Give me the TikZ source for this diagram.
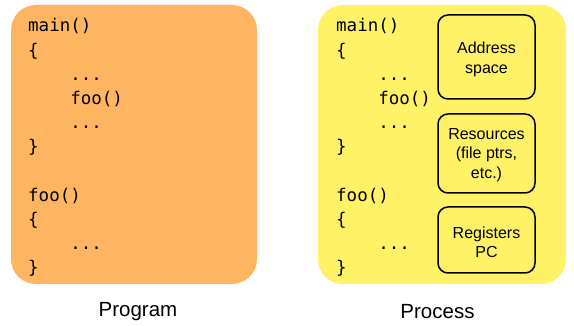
\documentclass[tikz,border=0pt]{standalone}
\usepackage{fontspec}
\setmainfont{Liberation Sans}
\newfontfamily\codefont{DejaVu Sans Mono}
\definecolor{progorange}{RGB}{253,181,98}
\definecolor{procyellow}{RGB}{255,242,102}
\newcommand\codeind{\phantom{xxxx}}
\newcommand\codelines[2]{%
  \node[code] (#2a) at (#1,32) {main()};
  \node[code] (#2b) at (#1,56.2) {\{};
  \node[code] (#2c) at (#1,80.4) {\codeind...};
  \node[code] (#2d) at (#1,104.6) {\codeind foo()};
  \node[code] (#2e) at (#1,128.8) {\codeind...};
  \node[code] (#2f) at (#1,153) {\}};
  \node[code] (#2g) at (#1,201.4) {foo()};
  \node[code] (#2h) at (#1,225.6) {\{};
  \node[code] (#2i) at (#1,249.8) {\codeind...};
  \node[code] (#2j) at (#1,274) {\}};
}
\begin{document}
\begin{tikzpicture}[x=1pt,y=-1pt,
  bigbox/.style={rounded corners=25pt, draw=none},
  smallbox/.style={draw=black, line width=1.5pt, rounded corners=10pt},
  code/.style={anchor=base west, inner sep=0pt, font=\codefont\fontsize{17.5}{24.2}\selectfont},
  boxtext/.style={align=center, inner sep=0pt, font=\fontsize{16}{19.5}\selectfont},
  caption/.style={inner sep=0pt, font=\fontsize{20.5}{24}\selectfont}]
\useasboundingbox (0,0) rectangle (574,326);
% big boxes
\path[bigbox, fill=progorange] (11,5) rectangle (257,284);
\path[bigbox, fill=procyellow] (318,5) rectangle (566,284);
% code
\codelines{28}{prog}
\codelines{336}{proc}
% inner boxes
\draw[smallbox] (438,15) rectangle (535,99);
\draw[smallbox] (438,114) rectangle (535,193);
\draw[smallbox] (438,207) rectangle (535,273);
\node[boxtext] (addr) at (486.5,59.5) {Address\\space};
\node[boxtext] (res) at (486.5,155) {Resources\\(file ptrs,\\etc.)};
\node[boxtext] (regs) at (486.5,242.5) {Registers\\PC};
% captions
\node[caption] (program) at (138,312) {Program};
\node[caption] (process) at (437.5,312) {Process};
\end{tikzpicture}
\end{document}
